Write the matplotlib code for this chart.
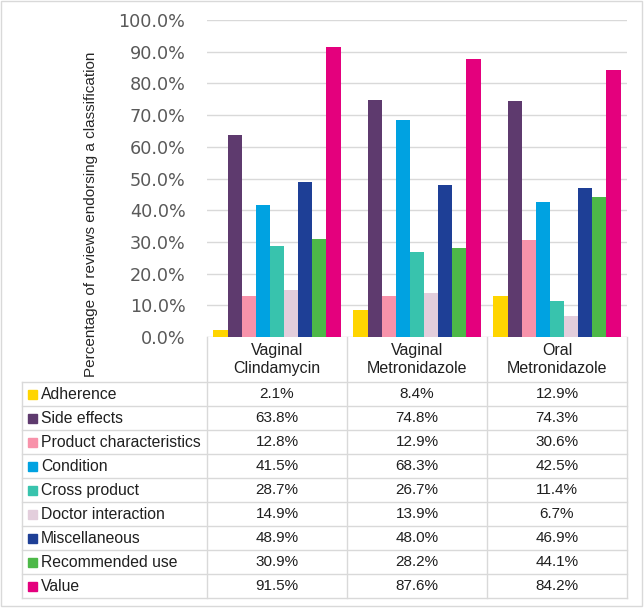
import matplotlib
matplotlib.use("Agg")
import matplotlib.pyplot as plt
from matplotlib.patches import Rectangle
import numpy as np

groups = ["Vaginal\nClindamycin", "Vaginal\nMetronidazole", "Oral\nMetronidazole"]
series = ["Adherence", "Side effects", "Product characteristics", "Condition",
          "Cross product", "Doctor interaction", "Miscellaneous", "Recommended use", "Value"]
values = {
    "Adherence": [2.1, 8.4, 12.9],
    "Side effects": [63.8, 74.8, 74.3],
    "Product characteristics": [12.8, 12.9, 30.6],
    "Condition": [41.5, 68.3, 42.5],
    "Cross product": [28.7, 26.7, 11.4],
    "Doctor interaction": [14.9, 13.9, 6.7],
    "Miscellaneous": [48.9, 48.0, 46.9],
    "Recommended use": [30.9, 28.2, 44.1],
    "Value": [91.5, 87.6, 84.2],
}
colors = ["#FFD500", "#5E3A6E", "#F892AA", "#00A2E1", "#38C3AD",
          "#E3CEDC", "#1E3F96", "#4DB848", "#E4007D"]
yticks = [0, 10, 20, 30, 40, 50, 60, 70, 80, 90, 100]

W, H = 644, 608
fig = plt.figure(figsize=(W / 100, H / 100), dpi=100)

# pixel layout
ax_l, ax_r, ax_t, ax_b = 207, 627, 20, 337
ax = fig.add_axes([ax_l / W, 1 - ax_b / H, (ax_r - ax_l) / W, (ax_b - ax_t) / H])

n = len(series)
bw = 0.1008
x = np.arange(len(groups))
for i, s in enumerate(series):
    ax.bar(x + (i - (n - 1) / 2) * bw, values[s], width=bw, color=colors[i], zorder=3)

ax.set_xlim(-0.5, len(groups) - 0.5)
ax.set_ylim(0, 100)
ax.set_yticks(yticks)
ax.set_yticklabels([f"{v:.1f}%" for v in yticks], fontsize=12.7, color="#595959",
                   family="DejaVu Sans")
ax.tick_params(axis="y", length=0, pad=15.5)
ax.set_xticks([])
ax.grid(axis="y", color="#D9D9D9", lw=1.0, zorder=0)
for sp in ax.spines.values():
    sp.set_visible(False)

fig.text(91 / W, 1 - 214 / H, "Percentage of reviews endorsing a classification",
         rotation=90, ha="center", va="center", fontsize=11.0, color="#262626",
         family="Liberation Sans")

# table overlay in pixel coordinates
tab = fig.add_axes([0, 0, 1, 1], zorder=5)
tab.set_xlim(0, W)
tab.set_ylim(H, 0)
tab.axis("off")
tab.patch.set_alpha(0)

lc = "#D9D9D9"
col_x = [207, 347, 487, 627]
row_top = 382
rh = 24
t_left = 22
t_bottom = row_top + rh * n
for k in range(n + 1):
    yy = row_top + k * rh
    tab.plot([t_left, col_x[-1]], [yy, yy], color=lc, lw=1.0)
tab.plot([t_left, t_left], [row_top, t_bottom], color=lc, lw=1.0)
for cx in col_x:
    tab.plot([cx, cx], [ax_b, t_bottom], color=lc, lw=1.0)

tc = "#1F1F1F"
for j, g in enumerate(groups):
    cx = (col_x[j] + col_x[j + 1]) / 2
    tab.text(cx, 359.5, g, ha="center", va="center", fontsize=11.5, color=tc,
             family="Liberation Sans", linespacing=1.2)

for i, s in enumerate(series):
    cy = row_top + i * rh + rh / 2
    tab.add_patch(Rectangle((28, cy - 4.5), 9, 9, color=colors[i]))
    tab.text(41, cy + 0.5, s, ha="left", va="center", fontsize=11.3, color=tc,
             family="Liberation Sans")
    for j in range(len(groups)):
        cx = (col_x[j] + col_x[j + 1]) / 2
        tab.text(cx, cy + 0.5, f"{values[s][j]:.1f}%", ha="center", va="center",
                 fontsize=11, color=tc, family="Liberation Sans")

# outer border
tab.add_patch(Rectangle((1, 1), W - 3, H - 3, fill=False, edgecolor=lc, lw=1.0))

fig.savefig("out.png", dpi=100)
